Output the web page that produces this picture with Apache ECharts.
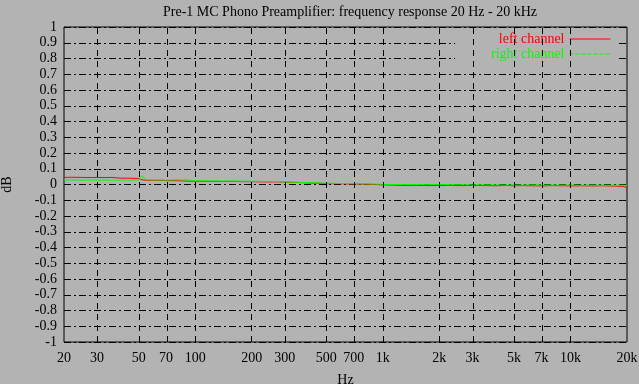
<!DOCTYPE html>
<html>
<head>
<meta charset="utf-8">
<script src="https://cdn.jsdelivr.net/npm/echarts@6/dist/echarts.min.js"></script>
<style>html,body{margin:0;padding:0;background:#b3b3b3}#c{width:639px;height:384px}</style>
</head>
<body>
<div id="c"></div>
<script>
const titleText = 'Pre-1 MC Phono Preamplifier: frequency response 20 Hz - 20 kHz';
const freqs = [20,22,25,28,30,33,36,40,45,50,52,55,60,65,70,80,90,100,110,125,140,160,180,200,225,250,280,300,350,400,450,500,560,630,700,800,900,1000,1150,1300,1500,1700,2000,2300,2600,3000,3500,4000,4500,5000,5600,6300,7000,8000,9000,10000,11500,13000,15000,17000,19000,20000];
const leftCh = [0.045,0.046,0.045,0.044,0.045,0.044,0.045,0.040,0.040,0.038,0.030,0.027,0.026,0.027,0.025,0.024,0.022,0.021,0.020,0.020,0.019,0.020,0.018,0.018,0.017,0.016,0.017,0.015,0.013,0.010,0.008,0.006,0.005,0.004,0.003,0.002,0.000,-0.002,-0.004,-0.006,-0.005,-0.007,-0.006,-0.005,-0.007,-0.006,-0.007,-0.008,-0.006,-0.008,-0.007,-0.008,-0.009,-0.007,-0.008,-0.009,-0.008,-0.009,-0.008,-0.010,-0.012,-0.020];
const rightCh = [0.029,0.029,0.028,0.028,0.029,0.028,0.028,0.028,0.028,0.028,0.055,0.030,0.029,0.029,0.028,0.030,0.029,0.024,0.023,0.023,0.022,0.022,0.021,0.021,0.020,0.020,0.018,0.016,0.014,0.012,0.010,0.008,0.007,0.006,0.005,0.004,0.003,0.001,0.000,0.000,0.000,-0.001,0.000,-0.001,-0.001,-0.002,-0.002,-0.002,-0.003,-0.003,-0.003,-0.002,-0.003,-0.003,-0.003,-0.003,-0.004,-0.003,-0.004,-0.004,-0.004,-0.005];
const xTicks = [20,30,50,70,100,200,300,500,700,1000,2000,3000,5000,7000,10000,20000];
const yMin = -1, yMax = 1, yStep = 0.1;

const FONT = 'Liberation Serif';
const FS = 14;
const lg = Math.log10;
const chart = echarts.init(document.getElementById('c'), null, {renderer: 'canvas'});
const fmtX = v => { const f = Math.round(Math.pow(10, v)); return f >= 1000 ? (f / 1000) + 'k' : String(f); };
chart.setOption({
  backgroundColor: '#b3b3b3',
  animation: false,
  title: {text: titleText, left: 345, top: 0, textAlign: 'center',
    textStyle: {fontFamily: FONT, fontSize: FS, fontWeight: 'normal', color: '#000'}},
  grid: {left: 64, right: 12, top: 27, bottom: 42, show: true, borderColor: '#000', borderWidth: 1,
    backgroundColor: 'transparent', containLabel: false, outerBoundsMode: 'none'},
  legend: {
    orient: 'vertical', right: 21, top: 31, align: 'right',
    itemWidth: 41, itemHeight: 14, itemGap: 1,
    padding: [1, 7, 7, 36], backgroundColor: '#b3b3b3',
    textStyle: {fontFamily: FONT, fontSize: FS},
    itemStyle: {opacity: 0},
    data: [
      {name: 'left channel', textStyle: {color: '#ff0000'}, itemStyle: {opacity: 0}, lineStyle: {color: '#ff0000', type: 'solid', width: 1}},
      {name: 'right channel', textStyle: {color: '#00ff00'}, itemStyle: {opacity: 0}, lineStyle: {color: '#00ff00', type: [4, 2], width: 1}}
    ]
  },
  xAxis: {
    type: 'value', min: lg(20), max: lg(20000),
    name: 'Hz', nameLocation: 'middle', nameGap: 31,
    nameTextStyle: {fontFamily: FONT, fontSize: FS, color: '#000'},
    axisLine: {show: false}, axisTick: {show: false, customValues: xTicks.map(lg)},
    splitLine: {show: false},
    axisLabel: {customValues: xTicks.map(lg), formatter: fmtX, margin: 9,
      fontFamily: FONT, fontSize: FS, color: '#000', showMinLabel: true, showMaxLabel: true}
  },
  yAxis: {
    type: 'value', min: yMin, max: yMax, interval: yStep,
    name: 'dB', nameLocation: 'middle', nameGap: 50, nameRotate: 90,
    nameTextStyle: {fontFamily: FONT, fontSize: FS, color: '#000'},
    axisLine: {show: false}, axisTick: {show: false},
    axisLabel: {formatter: v => String(+v.toFixed(1)), margin: 7, fontFamily: FONT, fontSize: FS, color: '#000'},
    splitLine: {show: true, lineStyle: {color: '#000', width: 1, type: [7, 3, 2, 3]}}
  },
  series: [
    {name: 'vgrid', type: 'line', data: [], silent: true, legendHoverLink: false,
      markLine: {silent: true, symbol: 'none', animation: false, label: {show: false},
        lineStyle: {color: '#000', width: 1, type: [6, 5]},
        data: xTicks.slice(1, -1).map(f => ({xAxis: lg(f)}))}},
    {name: 'left channel', type: 'line', symbol: 'none', data: freqs.map((f, i) => [lg(f), leftCh[i]]),
      lineStyle: {color: '#ff0000', width: 1}, itemStyle: {color: '#ff0000'}},
    {name: 'right channel', type: 'line', symbol: 'none', data: freqs.map((f, i) => [lg(f), rightCh[i]]),
      lineStyle: {color: '#00ff00', width: 1}, itemStyle: {color: '#00ff00'}}
  ]
});
</script>
</body>
</html>
